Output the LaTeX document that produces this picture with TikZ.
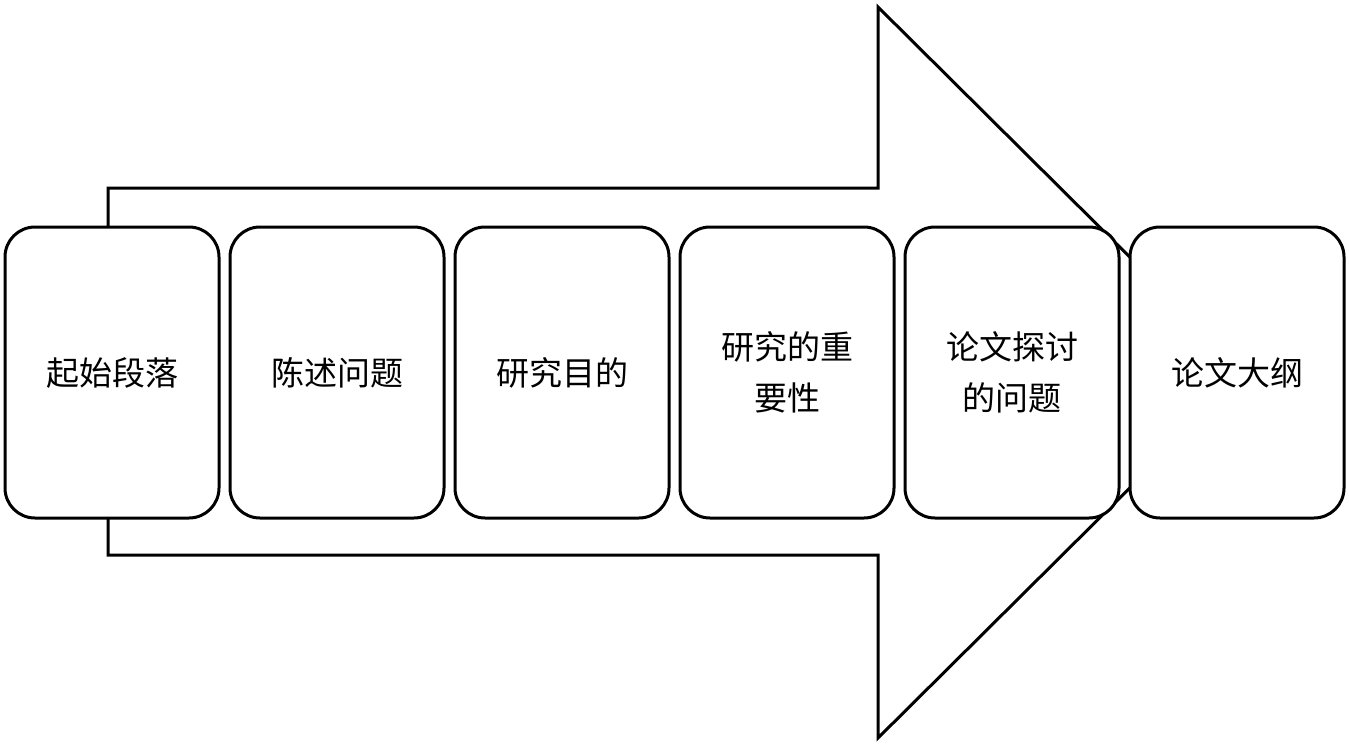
\documentclass[tikz,border=0pt]{standalone}
\usepackage{fontspec}
\newfontfamily\cjk{Noto Sans CJK SC}
\begin{document}
\begin{tikzpicture}[x=1pt,y=-1pt,
  stagebox/.style={draw=black,line width=3pt,fill=white,rounded corners=30pt,
    minimum width=214pt,minimum height=291pt,inner sep=0pt,align=center,
    font=\cjk\fontsize{33}{51}\selectfont},
  bigarrow/.style={draw=black,line width=3pt,line join=miter}]
\useasboundingbox (0,0) rectangle (1349,745);
\draw[bigarrow] (108,188) -- (878,188) -- (878,7) -- (1246,372.5) -- (878,738) -- (878,555) -- (108,555) -- cycle;
\node[stagebox] (b1) at (112,372.5) {起始段落};
\node[stagebox] (b2) at (337,372.5) {陈述问题};
\node[stagebox] (b3) at (562,372.5) {研究目的};
\node[stagebox] (b4) at (787,372.5) {研究的重\\要性};
\node[stagebox] (b5) at (1012,372.5) {论文探讨\\的问题};
\node[stagebox] (b6) at (1237,372.5) {论文大纲};
\end{tikzpicture}
\end{document}
